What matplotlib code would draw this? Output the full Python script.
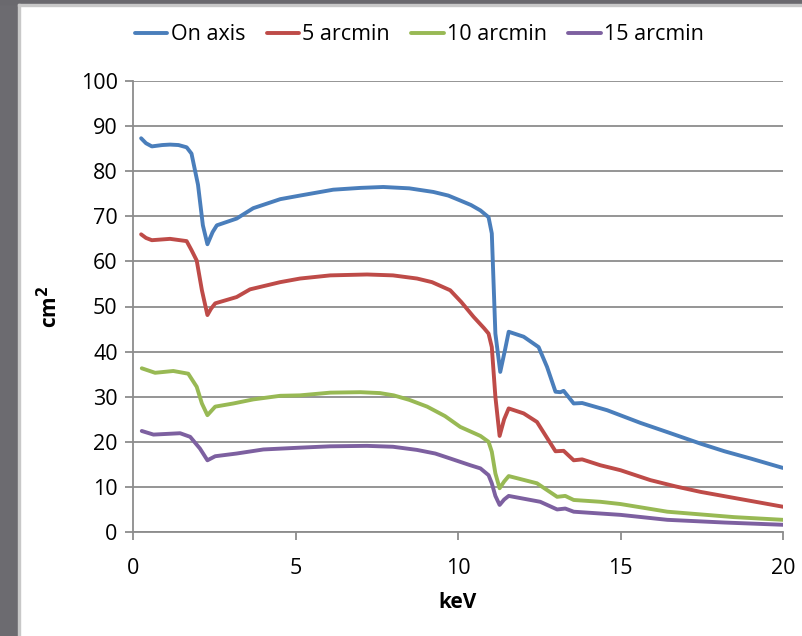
import matplotlib.pyplot as plt
from matplotlib.patches import Rectangle

plt.rcParams['font.family'] = ['Open Sans', 'DejaVu Sans']

# energies (keV) and effective area (cm^2)
kev_on = [0.25, 0.4, 0.58, 0.9, 1.14, 1.4, 1.65, 1.8, 2.0, 2.15, 2.29, 2.45, 2.58, 3.19, 3.7,
          4.53, 5.14, 6.16, 7.0, 7.7, 8.5, 9.24, 9.7, 10.07, 10.4, 10.69, 10.94, 11.04, 11.15,
          11.3, 11.45, 11.56, 12.02, 12.48, 12.74, 13.0, 13.15, 13.25, 13.56, 13.82, 14.59,
          15.61, 16.5, 17.46, 18.2, 19.0, 20.0]
area_on = [87.3, 86.2, 85.5, 85.8, 85.9, 85.8, 85.3, 83.9, 77.0, 68.0, 63.8, 66.5, 68.0, 69.5, 71.8,
           73.8, 74.6, 75.9, 76.3, 76.5, 76.2, 75.4, 74.6, 73.5, 72.5, 71.3, 69.8, 66.2, 44.0,
           35.5, 40.5, 44.4, 43.3, 41.0, 36.6, 31.1, 31.0, 31.3, 28.5, 28.6, 27.0,
           24.2, 22.0, 19.6, 17.9, 16.3, 14.2]

kev_5 = [0.25, 0.4, 0.58, 1.14, 1.65, 1.8, 1.96, 2.12, 2.29, 2.4, 2.53, 3.19, 3.6, 4.53, 5.14,
         6.07, 7.2, 8.0, 8.74, 9.2, 9.76, 10.1, 10.48, 10.8, 10.94, 11.04, 11.15, 11.28, 11.42,
         11.56, 12.02, 12.43, 13.0, 13.25, 13.56, 13.82, 14.38, 15.0, 15.92, 16.7, 17.46, 19.0,
         20.0]
area_5 = [66.0, 65.2, 64.7, 65.0, 64.5, 62.5, 60.2, 53.6, 48.1, 49.5, 50.7, 52.1, 53.8, 55.4, 56.2,
          56.9, 57.1, 56.9, 56.2, 55.4, 53.6, 51.0, 47.7, 45.2, 44.0, 41.0, 30.0, 21.3, 25.0,
          27.4, 26.3, 24.4, 17.9, 18.0, 15.9, 16.1, 14.8, 13.7, 11.5, 10.1, 8.9, 6.9,
          5.6]

kev_10 = [0.27, 0.68, 1.24, 1.7, 1.96, 2.12, 2.29, 2.53, 3.09, 3.7, 4.53, 5.14, 6.07, 7.0, 7.6,
          8.02, 8.5, 9.05, 9.6, 10.07, 10.38, 10.69, 10.94, 11.04, 11.15, 11.28, 11.42, 11.56,
          12.43, 13.05, 13.3, 13.56, 14.38, 15.0, 16.44, 18.49, 20.0]
area_10 = [36.3, 35.3, 35.7, 35.1, 32.2, 28.5, 25.9, 27.8, 28.5, 29.4, 30.2, 30.3, 30.9, 31.0, 30.8,
           30.3, 29.3, 27.8, 25.7, 23.3, 22.3, 21.3, 20.0, 17.8, 13.0, 9.7, 11.2, 12.4,
           10.8, 7.8, 8.0, 7.1, 6.7, 6.2, 4.5, 3.3, 2.7]

kev_15 = [0.27, 0.63, 1.45, 1.76, 2.06, 2.29, 2.53, 3.19, 4.01, 5.14, 6.07, 7.2, 8.0, 8.74, 9.3,
          9.76, 10.38, 10.69, 10.94, 11.04, 11.15, 11.28, 11.42, 11.56, 12.53, 13.05, 13.3, 13.56,
          14.38, 15.0, 16.44, 18.2, 20.0]
area_15 = [22.4, 21.6, 21.9, 21.1, 18.5, 15.9, 16.8, 17.4, 18.3, 18.7, 19.0, 19.1, 18.9, 18.2, 17.4,
           16.3, 14.8, 14.1, 12.6, 10.8, 8.0, 6.0, 7.2, 8.0, 6.7, 5.0, 5.2, 4.5,
           4.1, 3.8, 2.7, 2.1, 1.6]

labels = ['On axis', '5 arcmin', '10 arcmin', '15 arcmin']
colors = ['#4A7EBB', '#BE4B48', '#98B954', '#7D60A0']
series = [(kev_on, area_on), (kev_5, area_5), (kev_10, area_10), (kev_15, area_15)]

fig = plt.figure(figsize=(8.02, 6.36), dpi=100)

# gray slide frame on the left and top
fig.patches.append(Rectangle((0, 0), 18 / 802, 1, transform=fig.transFigure,
                             color='#6c6b70', zorder=0))
fig.patches.append(Rectangle((0, 1 - 4 / 636), 1, 4 / 636, transform=fig.transFigure,
                             color='#6a696e', zorder=0))
fig.patches.append(Rectangle((18 / 802, 0), 1.5 / 802, 1 - 4 / 636, transform=fig.transFigure,
                             color='#c8c8c8', zorder=0))
fig.patches.append(Rectangle((18 / 802, 1 - 5.5 / 636), 1, 1.5 / 636, transform=fig.transFigure,
                             color='#c8c8c8', zorder=0))

ax = fig.add_axes([133 / 802, 1 - 532 / 636, 650 / 802, 451 / 636])

for (x, y), lab, c in zip(series, labels, colors):
    ax.plot(x, y, color=c, lw=2.8, label=lab, solid_joinstyle='round',
            solid_capstyle='round', zorder=3)

ax.set_xlim(0, 20)
ax.set_ylim(0, 100)
ax.set_xticks(range(0, 21, 5))
ax.set_yticks(range(0, 101, 10))
ax.yaxis.grid(True, color='#8c8c8c', lw=1.3)
ax.set_axisbelow(True)

for s in ['top', 'right']:
    ax.spines[s].set_visible(False)
for s in ['left', 'bottom']:
    ax.spines[s].set_color('#8c8c8c')
    ax.spines[s].set_linewidth(1.3)

ax.tick_params(axis='both', colors='#8c8c8c', labelcolor='black', labelsize=15.5,
               length=6, width=1.3, direction='out')
ax.tick_params(axis='x', pad=13)
ax.tick_params(axis='y', pad=5)

ax.set_xlabel('keV', fontsize=15, fontweight='bold', labelpad=9)
ax.set_ylabel('cm$^\\mathbf{2}$', fontsize=15, fontweight='bold', labelpad=13)

fig.legend(loc='center', bbox_to_anchor=(0.523, 0.945), ncol=4, frameon=False,
           fontsize=15.5, handlelength=1.5, handletextpad=0.15, columnspacing=1.0)

fig.savefig('out.png', dpi=100)
